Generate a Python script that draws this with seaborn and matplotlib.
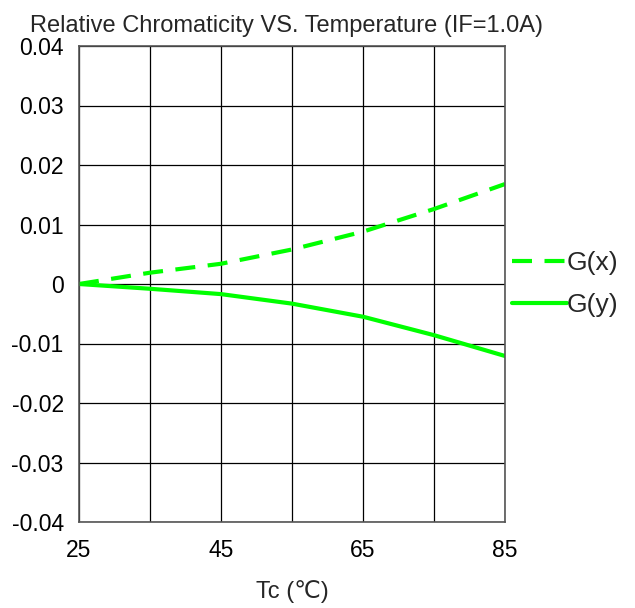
import pandas as pd
import numpy as np
import matplotlib
matplotlib.use('Agg')
import matplotlib.pyplot as plt
import seaborn as sns

#Data
tc = [25, 35, 45, 55, 65, 75, 85]
gx = [0.0, 0.0019, 0.0034, 0.0058, 0.0088, 0.0126, 0.0168]
gy = [0.0, -0.0008, -0.0017, -0.0033, -0.0055, -0.0086, -0.0121]
y_ticks = [-0.04, -0.03, -0.02, -0.01, 0, 0.01, 0.02, 0.03, 0.04]
y_tick_labels = ['-0.04', '-0.03', '-0.02', '-0.01', '0', '0.01', '0.02', '0.03', '0.04']
x_labels = ['25', '', '45', '', '65', '', '85']

df = pd.DataFrame({'Tc': tc * 2,
                   'value': gx + gy,
                   'series': ['G(x)'] * len(tc) + ['G(y)'] * len(tc)})

sns.set_style('white')
plt.rcParams['font.family'] = ['Liberation Sans', 'DejaVu Sans']

green = '#00ff00'
fig = plt.figure(figsize=(6.35, 6.08), dpi=100)
ax = fig.add_axes([79/635, 1-522/608, 426/635, 476/608])

sns.lineplot(data=df, x='Tc', y='value', hue='series', style='series',
             palette=[green, green], dashes={'G(x)': (4.8, 3), 'G(y)': ''},
             linewidth=3, ax=ax)

ax.set_xlim(25, 85)
ax.set_ylim(-0.04, 0.04)
ax.set_xticks(tc)
ax.set_xticklabels(x_labels)
ax.set_yticks(y_ticks)
ax.set_yticklabels(y_tick_labels)
ax.tick_params(axis='both', length=0, labelsize=16.5, colors='black')
ax.tick_params(axis='y', pad=11)
ax.tick_params(axis='x', pad=12)
ax.grid(True, color='black', linewidth=0.9)
for s in ax.spines.values():
    s.set_color('#555555')
    s.set_linewidth(1.2)

ax.set_xlabel('Tc (\u2103)', fontsize=17, labelpad=13)
ax.set_ylabel('')
ax.set_title('Relative Chromaticity VS. Temperature (IF=1.0A)', fontsize=17,
             x=0.487, pad=10)

ax.legend(loc='center left', bbox_to_anchor=(1.016, 0.500), frameon=False,
          fontsize=19, handlelength=2.08, handletextpad=0.0, labelspacing=0.7,
          borderpad=0, borderaxespad=0)

plt.savefig('out.png', dpi=100)
